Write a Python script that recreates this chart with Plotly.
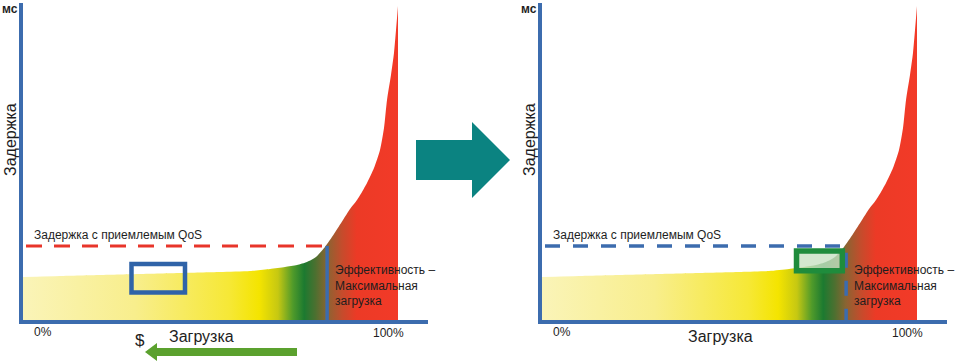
import plotly.graph_objects as go

# ---------------- data ----------------
load_pct = [0, 9.87, 20.53, 31.2, 41.87, 52.53, 60.53, 65.87, 69.87, 73.07, 75.73, 78.13,
            80.53, 82.93, 85.33, 87.2, 89.07, 90.4, 91.73, 93.6, 95.2, 96.27, 97.07, 98.13,
            98.93, 99.47, 100]
latency = [13.7, 14.02, 14.34, 14.65, 14.97, 15.29, 15.61, 16.25, 16.88, 17.52, 18.48, 20.07,
           23.26, 27.4, 31.86, 35.36, 38.23, 40.78, 43.64, 48.42, 54.16, 61.17, 70.09, 78.05,
           85.06, 92.39, 100.03]
qos_latency = 23.6
max_load = 81.1
window_left = {"load": [28.93, 43.2], "latency": [8.76, 17.84]}
window_right = {"load": [67.87, 80.08], "latency": [15.67, 21.98]}

grad_stops = [0.0, 0.30, 0.55, 0.63, 0.68, 0.72, 0.75, 0.78, 0.81, 0.85, 0.89, 1.0]
grad_colors = ["#faf4b8", "#f8ee8c", "#f6e836", "#f4e400", "#c6c812", "#4f9a2a", "#1c7a30",
               "#4c7030", "#8a6432", "#c44c2c", "#ec3a26", "#f23a28"]

W, H = 960, 362
AX_BLUE = "#3c6cae"
TXT = "#1e1e1e"
FONT = "Liberation Sans, Arial, sans-serif"
PANEL_OFFSETS = [0, 519]

fig = go.Figure()
panels = [("x", "y"), ("x2", "y2")]
for i, (xa, ya) in enumerate(panels):
    fig.add_trace(go.Scatter(
        x=load_pct, y=latency, xaxis=xa, yaxis=ya,
        fill="tozeroy", mode="lines", line=dict(width=0, shape="spline", smoothing=0.6),
        fillgradient=dict(type="horizontal", start=0, stop=100,
                          colorscale=[[s, c] for s, c in zip(grad_stops, grad_colors)]),
        hoverinfo="skip", showlegend=False))
    if i == 0:
        fig.add_trace(go.Scatter(x=[0.8, max_load], y=[qos_latency, qos_latency], xaxis=xa, yaxis=ya,
                                 mode="lines", line=dict(color="#e8352a", width=3, dash="16px,12px"),
                                 hoverinfo="skip", showlegend=False))
        fig.add_trace(go.Scatter(x=[max_load, max_load], y=[0, qos_latency], xaxis=xa, yaxis=ya,
                                 mode="lines", line=dict(color=AX_BLUE, width=3.5),
                                 hoverinfo="skip", showlegend=False))
    else:
        fig.add_trace(go.Scatter(x=[0.8, max_load, max_load], y=[qos_latency, qos_latency, 0],
                                 xaxis=xa, yaxis=ya,
                                 mode="lines", line=dict(color=AX_BLUE, width=3.5, dash="15px,13px"),
                                 hoverinfo="skip", showlegend=False))

# windows
fig.add_shape(type="rect", xref="x", yref="y",
              x0=window_left["load"][0], x1=window_left["load"][1],
              y0=window_left["latency"][0], y1=window_left["latency"][1],
              line=dict(color="#2f63a8", width=4.5), fillcolor="rgba(0,0,0,0)")
fig.add_shape(type="rect", xref="x2", yref="y2",
              x0=window_right["load"][0], x1=window_right["load"][1],
              y0=window_right["latency"][0], y1=window_right["latency"][1],
              line=dict(color="#1f8c3c", width=5.5), fillcolor="rgba(200,225,195,0.8)")


def P(px, py):
    return px / W, (H - py) / H


def path(pts):
    s = ""
    for k, (a, b) in enumerate(pts):
        X, Y = P(a, b)
        s += ("M" if k == 0 else "L") + f"{X:.5f},{Y:.5f} "
    return s + "Z"


# middle teal arrow
fig.add_shape(type="path", xref="paper", yref="paper",
              path=path([(416, 140), (472, 140), (472, 122), (510, 160), (472, 198), (472, 180), (416, 180)]),
              fillcolor="#0b8381", line=dict(width=0))
# green arrow under left chart
fig.add_shape(type="path", xref="paper", yref="paper",
              path=path([(145, 352), (157, 343), (157, 348), (297, 348), (297, 356), (157, 356), (157, 361)]),
              fillcolor="#5ba12e", line=dict(width=0))

ann = []
for off in PANEL_OFFSETS:
    def A(text, px, py, size, xanchor="center", angle=0, bold=False):
        X, Y = P(px + off, py)
        ann.append(dict(text=("<b>%s</b>" % text) if bold else text, x=X, y=Y, xref="paper", yref="paper",
                        showarrow=False, xanchor=xanchor, yanchor="middle", textangle=angle, align="left",
                        font=dict(family=FONT, size=size, color=TXT)))
    A("мс", 10, 9, 12, bold=True)
    A("Задержка", 10, 140, 16, angle=-90)
    A("Задержка с приемлемым QoS", 32, 235, 12, xanchor="left")
    A("Эффективность –<br>Максимальная<br>загрузка", 333, 285, 12, xanchor="left")
    A("0%", 43, 332, 12)
    A("Загрузка", 201, 336, 16)
    A("100%", 388, 333, 12)
X, Y = P(133, 352)
ann.append(dict(text="$", x=X, y=Y, xref="paper", yref="paper", showarrow=False,
                font=dict(family=FONT, size=17, color=TXT)))

ydom = [(H - 320) / H, (H - 3) / H]
axis_common = dict(showline=True, linecolor=AX_BLUE, linewidth=4, showgrid=False,
                   zeroline=False, showticklabels=False, ticks="", fixedrange=True)
fig.update_layout(
    width=W, height=H, margin=dict(l=0, r=0, t=0, b=0),
    paper_bgcolor="white", plot_bgcolor="white", showlegend=False,
    xaxis=dict(domain=[23 / W, 428 / W], range=[0, 108], anchor="y", **axis_common),
    yaxis=dict(domain=ydom, range=[0, 101], anchor="x", **axis_common),
    xaxis2=dict(domain=[542 / W, 947 / W], range=[0, 108], anchor="y2", **axis_common),
    yaxis2=dict(domain=ydom, range=[0, 101], anchor="x2", **axis_common),
    annotations=ann,
)
fig.write_html("out.html", config={"displayModeBar": False},
               post_script="document.body.style.margin='0';document.body.style.padding='0';"
                           "document.body.style.overflow='hidden';")
